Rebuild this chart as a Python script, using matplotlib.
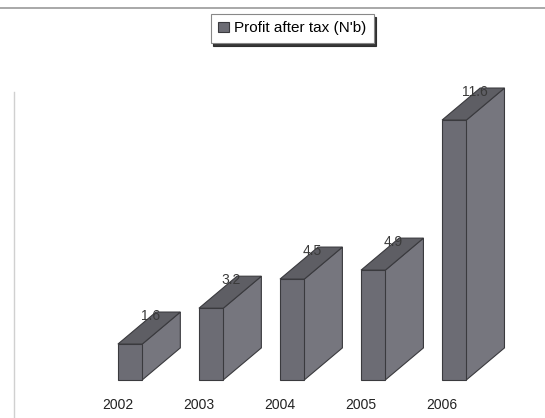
import numpy as np
import matplotlib
matplotlib.use("Agg")
import matplotlib.pyplot as plt
from matplotlib.patches import Polygon
from matplotlib.lines import Line2D

plt.rcParams["font.family"] = ["Liberation Sans", "DejaVu Sans"]

# ======== Data ========
years = ["2002", "2003", "2004", "2005", "2006"]
profit = [1.6, 3.2, 4.5, 4.9, 11.6]
value_labels = ["1.6", "3.2", "4.5", "4.9", "11.6"]

# ======== Style ========
FRONT = "#6c6c74"
SIDE = "#76767e"
TOP = "#5e5e64"
EDGE = "#3a3a3e"
BAR_W = 0.30
DEPTH_X = 0.47   # depth offset of the 3D box, data units
DEPTH_Y = 1.43

fig = plt.figure(figsize=(5.45, 4.18), dpi=100)
ax = fig.add_axes([0, 0, 1, 1])
ax.set_xlim(-1.605, 5.12)
ax.set_ylim(-1.70, 16.96)
ax.axis("off")

x = np.arange(len(years))
bars = ax.bar(x, profit, width=BAR_W, color=FRONT, edgecolor=EDGE,
              linewidth=0.8, zorder=3, label="Profit after tax (N'b)")

# side and top faces of each 3D box
for xi, h in zip(x, profit):
    xl, xr = xi - BAR_W / 2, xi + BAR_W / 2
    side = Polygon([(xr, 0), (xr + DEPTH_X, DEPTH_Y), (xr + DEPTH_X, h + DEPTH_Y), (xr, h)],
                   closed=True, facecolor=SIDE, edgecolor=EDGE, linewidth=0.8, zorder=2)
    top = Polygon([(xl, h), (xr, h), (xr + DEPTH_X, h + DEPTH_Y), (xl + DEPTH_X, h + DEPTH_Y)],
                  closed=True, facecolor=TOP, edgecolor=EDGE, linewidth=0.8, zorder=2)
    ax.add_patch(side)
    ax.add_patch(top)

# value labels
for xi, h, lab in zip(x, profit, value_labels):
    ax.text(xi + 0.25, h + 1.25, lab, ha="center", va="center",
            fontsize=10, color="#3a3a3a", zorder=5)

# year labels
for xi, yr in zip(x, years):
    ax.text(xi - 0.15, -1.1, yr, ha="center", va="center",
            fontsize=10, color="#222222")

# page border lines
fig.add_artist(Line2D([0, 1], [0.981, 0.981], transform=fig.transFigure,
                      color="#9a9a9a", linewidth=1.2))
fig.add_artist(Line2D([0.026, 0.026], [0, 0.78], transform=fig.transFigure,
                      color="#d0d0d0", linewidth=1.0))

leg = ax.legend(loc="upper center", bbox_to_anchor=(0.536, 0.967), fontsize=11,
                frameon=True, fancybox=False,
                shadow={"color": "#222222", "alpha": 0.9},
                handlelength=0.7, handleheight=0.7, handletextpad=0.3,
                borderpad=0.5, borderaxespad=0, edgecolor="#888888")
leg.get_frame().set_linewidth(0.8)

fig.savefig("out.png", dpi=100)
